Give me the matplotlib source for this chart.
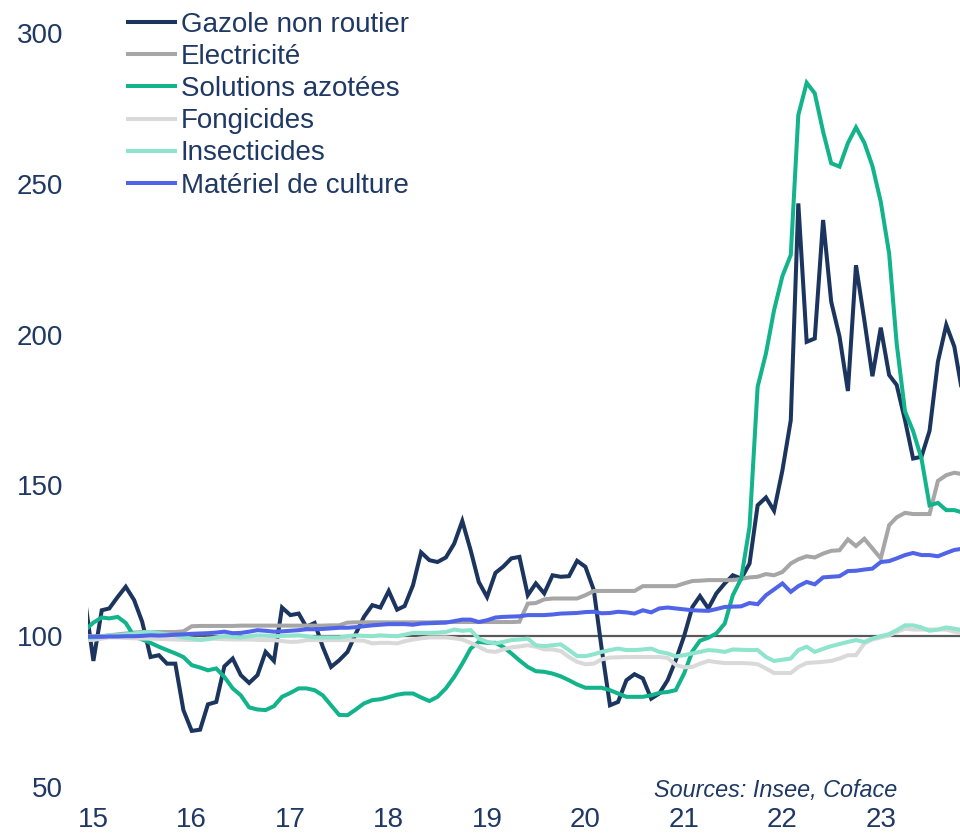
import matplotlib
matplotlib.use("Agg")
import matplotlib.pyplot as plt
import numpy as np
import pandas as pd

# ---------------------------------------------------------------------------
# Données mensuelles (base 100 = 2015), de déc. 2014 à nov. 2023
# ---------------------------------------------------------------------------
MONTHS = pd.date_range("2014-12-01", periods=108, freq="MS")

gazole = [
    112,
    91.8, 108.6, 109.2, 113, 116.4, 112, 104.8, 93.1, 93.7, 90.9, 90.9, 75.5,
    68.6, 69, 77.4, 78.2, 90, 92.6, 87.1, 84.5, 87.1, 94.8, 91.8, 109.5,
    107, 107.5, 103.1, 104.4, 96.5, 89.8, 92, 94.8, 100.9, 106.4, 110.3, 109.5,
    115, 108.8, 110, 116.9, 127.8, 125.2, 124.6, 126.1, 130.7, 138.2, 128.5, 118,
    113, 121, 123, 125.8, 126.3, 113.6, 117.5, 114.2, 120.2, 119.7, 119.9, 125,
    123, 115.3, 96, 77.1, 78.2, 85.4, 87.4, 86, 79.3, 81, 85.4, 92,
    100, 109.7, 113.3, 109.2, 114.2, 117.5, 120.2, 119.1, 124.1, 143.4, 146, 141.6,
    155, 171.6, 243.5, 197.6, 198.7, 238, 210.9, 199.3, 181.3, 223, 204.8, 186.2,
    202.3, 186.6, 183.3, 171.6, 158.9, 159.5, 168.1, 191, 203.2, 196, 180,
]

electricite = [
    100,
    100, 100, 100.3, 100.6, 100.9, 101.2, 101.4, 101.4, 101.4, 101.4, 101.4, 101.6,
    103.3, 103.4, 103.4, 103.4, 103.4, 103.4, 103.5, 103.5, 103.5, 103.5, 103.5, 103.5,
    103.5, 103.5, 103.5, 103.5, 103.5, 103.6, 103.6, 104.5, 104.6, 104.6, 104.6, 104.6,
    104.6, 104.6, 104.6, 104.6, 104.6, 104.6, 104.7, 104.7, 104.7, 104.7, 104.7, 104.7,
    104.7, 104.7, 104.7, 104.7, 104.8, 110.8, 111, 112.2, 112.5, 112.5, 112.5, 112.5,
    113.6, 115, 115, 115, 115, 115, 115, 116.6, 116.6, 116.6, 116.6, 116.6,
    117.5, 118.3, 118.4, 118.6, 118.6, 118.6, 118.6, 119, 119.5, 119.7, 120.6, 120.2,
    121.3, 124.1, 125.5, 126.5, 126.1, 127.4, 128.3, 128.5, 132.1, 129.9, 132.3, 129.1,
    125.8, 136.8, 139.4, 140.9, 140.5, 140.5, 140.5, 151.5, 153.4, 154.2, 153.7,
]

azote = [
    102,
    104.5, 106.2, 105.9, 106.4, 104.4, 100, 98.9, 97.8, 96.5, 95.4, 94.3, 93.1,
    90.4, 89.6, 88.7, 89.3, 86.5, 82.7, 80.4, 76.4, 75.7, 75.5, 76.8, 79.9,
    81.2, 82.7, 82.7, 82.1, 80.4, 77.1, 73.9, 73.8, 75.7, 77.7, 78.8, 79.1,
    79.8, 80.6, 81, 81, 79.7, 78.5, 79.9, 82.7, 86.5, 90.9, 95.9, 98.1,
    97.8, 97.8, 96.5, 94.3, 92, 89.8, 88.4, 88.2, 87.6, 86.7, 85.4, 84,
    82.9, 82.9, 82.9, 82.1, 81, 79.9, 79.9, 79.9, 80.4, 81.2, 81.5, 82.1,
    87.6, 95, 98.5, 99.5, 100.9, 104.2, 113.6, 119.1, 136.3, 182.7, 193.8, 208.1,
    219.4, 226.4, 272.8, 283.5, 280, 267.3, 256.8, 255.7, 263.5, 268.7, 263.6, 255.9,
    244, 226.9, 197, 174.5, 168, 158.9, 143.4, 144.2, 141.8, 141.8, 141,
]

fongicides = [
    98.7,
    98.8, 99.2, 99.6, 99.6, 99.4, 99.3, 99.2, 99.2, 99.1, 99, 98.9, 98.8,
    98.7, 98.8, 99.2, 99.1, 99, 98.9, 98.9, 98.9, 98.8, 98.7, 98.7, 98.4,
    98.1, 98.2, 98.7, 98.7, 98.7, 98.7, 98.7, 98.7, 98.6, 98.5, 97.6, 97.8,
    97.8, 97.6, 98.3, 98.9, 99.3, 99.6, 99.6, 99.6, 99.3, 98.9, 97.8, 96.5,
    95.1, 94.8, 95.6, 96.3, 96.6, 97, 96.5, 95.6, 95.6, 95.1, 93.1, 91.5,
    90.7, 90.9, 92.3, 92.9, 93, 93.1, 93.1, 93.1, 93.1, 93.1, 92.8, 90.5,
    89.7, 89.8, 90.9, 91.8, 91.4, 91.1, 91.1, 91.1, 91, 90.7, 89.3, 87.8,
    87.8, 87.8, 89.8, 91.1, 91.3, 91.5, 91.8, 92.6, 93.7, 93.7, 97.6, 98.9,
    99.6, 100.3, 101.4, 102.5, 102.2, 102.2, 102.2, 102.2, 102.2, 101.5, 101,
]

insecticides = [
    99.2,
    99.4, 99.8, 100.3, 100.3, 100.6, 100.9, 101.2, 101.4, 101, 100.6, 100.2, 99.6,
    99.2, 98.8, 99, 99.6, 100, 99.8, 99.6, 100, 100.3, 100.2, 100, 100.1,
    100.2, 100.3, 100, 99.6, 99.6, 99.6, 99.6, 100, 100.3, 100.1, 100, 100.3,
    100.1, 100, 100.5, 101.1, 101.1, 101.1, 101.2, 101.4, 102.2, 101.8, 102, 99.2,
    98.1, 97.6, 98.1, 98.7, 98.9, 99.2, 97, 96.7, 97, 97.3, 95.4, 93.4,
    93.4, 94, 94.8, 95.4, 95.9, 95.4, 95.4, 95.6, 95.9, 94.8, 94.3, 93.3,
    93.7, 94.3, 94.8, 95.4, 95.2, 94.8, 95.6, 95.5, 95.4, 95.4, 93.1, 91.8,
    92.2, 92.6, 95.4, 96.5, 94.8, 95.8, 96.7, 97.4, 98.1, 98.7, 98.1, 99.2,
    100, 100.7, 102, 103.6, 103.6, 102.9, 101.8, 102.2, 102.9, 102.5, 102,
]

materiel = [
    99.8,
    99.8, 99.8, 99.9, 99.9, 100, 100, 100.1, 100.3, 100.2, 100.3, 100.5, 100.6,
    100.8, 100.9, 101, 101.2, 101.5, 101, 101.1, 101.5, 102, 101.8, 101.5, 101.6,
    101.8, 102, 102.3, 102.3, 102.4, 102.6, 102.8, 102.8, 103, 103.3, 103.6, 103.8,
    104, 104, 104, 103.8, 104.2, 104.3, 104.4, 104.5, 105, 105.5, 105.5, 104.7,
    105.3, 106.2, 106.4, 106.5, 106.6, 107, 107, 107, 107.2, 107.5, 107.6, 107.7,
    108, 108.1, 107.6, 107.7, 108.1, 107.9, 107.5, 108.6, 107.9, 109.2, 109.5, 109.2,
    108.9, 108.6, 108.5, 108.4, 109, 109.7, 109.8, 109.9, 111, 110.6, 113.6, 115.5,
    117.5, 114.7, 116.6, 118, 117.2, 119.5, 119.7, 119.9, 121.6, 121.7, 122.1, 122.4,
    124.6, 124.9, 125.8, 126.9, 127.6, 126.9, 126.9, 126.5, 127.6, 128.6, 129,
]

SERIES = [
    ("Gazole non routier", gazole, "#1c355e"),
    ("Electricité", electricite, "#a6a6a6"),
    ("Solutions azotées", azote, "#13b38b"),
    ("Fongicides", fongicides, "#d9d9d9"),
    ("Insecticides", insecticides, "#8ee4cc"),
    ("Matériel de culture", materiel, "#5064e8"),
]

YEARS = list(range(2015, 2024))
YEAR_LABELS = [str(y)[2:] for y in YEARS]
Y_TICKS = [50, 100, 150, 200, 250, 300]

TEXT_COLOR = "#1f3864"

plt.rcParams["font.family"] = ["Liberation Sans", "DejaVu Sans"]

fig = plt.figure(figsize=(9.6, 8.34), dpi=100)
ax = fig.add_axes([88 / 960, 47 / 834, 872 / 960, 754 / 834])

ax.axhline(100, color="#595959", linewidth=1.6, zorder=1)
for label, values, color in SERIES:
    ax.plot(MONTHS, values, color=color, linewidth=2.9, label=label,
            solid_joinstyle="miter", zorder=2)

ax.set_ylim(50, 300)
ax.set_yticks(Y_TICKS)
ax.set_xlim(pd.Timestamp("2014-12-12"), pd.Timestamp("2023-10-22"))
ax.set_xticks([pd.Timestamp(f"{y}-01-01") for y in YEARS])
ax.set_xticklabels(YEAR_LABELS)

for side in ("top", "right", "bottom", "left"):
    ax.spines[side].set_visible(False)
ax.tick_params(axis="both", length=0, labelsize=20, labelcolor=TEXT_COLOR)
ax.tick_params(axis="x", pad=14.5)
ax.tick_params(axis="y", pad=18)

fig.legend(loc="upper left", bbox_to_anchor=(128 / 960, 1 - 12 / 834),
           frameon=False, fontsize=20, labelcolor=TEXT_COLOR,
           handlelength=1.7, handletextpad=0.2, labelspacing=0.22,
           borderpad=0, borderaxespad=0)

fig.text(897 / 960, 1 - 790 / 834, "Sources: Insee, Coface", ha="right",
         va="center", fontsize=16.8, style="italic", color=TEXT_COLOR)

fig.savefig("out.png", dpi=100)
